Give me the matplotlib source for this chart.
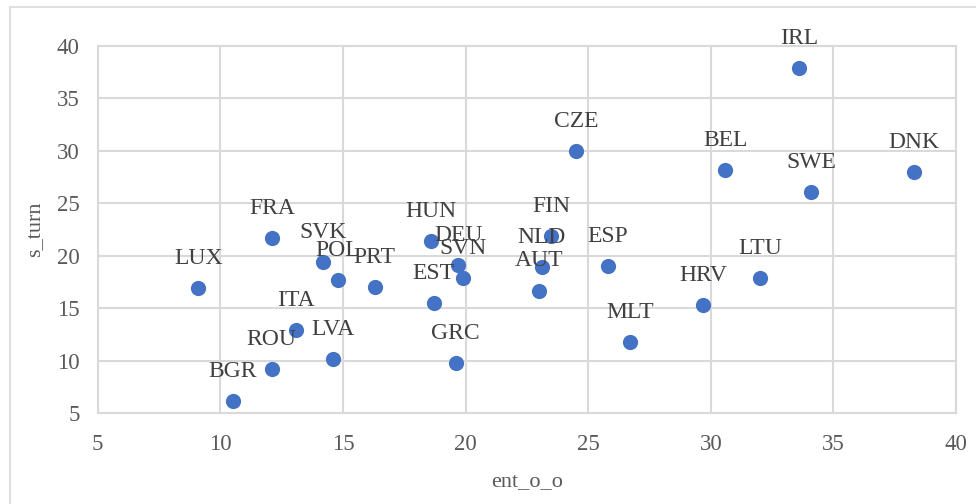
"""Scatter of s_turn against ent_o_o by country, Excel-style."""

import matplotlib
matplotlib.use("Agg")
import matplotlib.pyplot as plt
from matplotlib.patches import Rectangle

countries = ["IRL", "CZE", "BEL", "SWE", "DNK", "FIN", "ESP", "NLD", "AUT",
             "HRV", "LTU", "MLT", "FRA", "HUN", "LUX", "SVK", "POL", "PRT",
             "EST", "DEU", "SVN", "ITA", "LVA", "ROU", "BGR", "GRC"]
ent_o_o = [33.6, 24.5, 30.6, 34.1, 38.3, 23.5, 25.8, 23.1, 23.0,
           29.7, 32.0, 26.7, 12.1, 18.6, 9.1, 14.2, 14.8, 16.3,
           18.7, 19.7, 19.9, 13.1, 14.6, 12.1, 10.5, 19.6]
s_turn = [37.9, 30.0, 28.2, 26.1, 28.0, 21.9, 19.0, 18.9, 16.7,
          15.3, 17.9, 11.8, 21.7, 21.4, 16.9, 19.4, 17.7, 17.0,
          15.5, 19.1, 17.9, 12.9, 10.2, 9.2, 6.2, 9.8]

plt.rcParams["font.family"] = ["Liberation Serif", "DejaVu Serif"]

grey_text = "#595959"
grid_col = "#d9d9d9"

fig = plt.figure(figsize=(9.76, 5.04), dpi=100)
fig.patches.append(Rectangle((10 / 976, -0.1), 1.2, 1 - 7 / 504 + 0.1,
                             transform=fig.transFigure, fill=False,
                             edgecolor=grid_col, linewidth=1.2))
ax = fig.add_axes([0.1001, 0.18, 0.8794, 0.7287])

ax.scatter(ent_o_o, s_turn, s=120, color="#4472C4", zorder=3, linewidths=0)
for name, x, y in zip(countries, ent_o_o, s_turn):
    ax.annotate(name, (x, y), xytext=(0, 17.3), textcoords="offset points",
                ha="center", va="baseline", fontsize=17, color="#404040",
                zorder=4)

ax.set_xlim(5, 40)
ax.set_ylim(5, 40)
ax.set_xticks(range(5, 41, 5))
ax.set_yticks(range(5, 41, 5))
ax.grid(True, color=grid_col, linewidth=1.5, zorder=0)
ax.set_axisbelow(True)
for sp in ax.spines.values():
    sp.set_color(grid_col)
    sp.set_linewidth(1.5)
ax.tick_params(axis="x", length=0, labelsize=16.5, colors=grey_text, pad=15)
ax.tick_params(axis="y", length=0, labelsize=16.5, colors=grey_text, pad=13)
ax.set_xlabel("ent_o_o", fontsize=16, color=grey_text, labelpad=12)
ax.set_ylabel("s_turn", fontsize=16, color=grey_text, labelpad=9)

fig.savefig("out.png", dpi=100)
